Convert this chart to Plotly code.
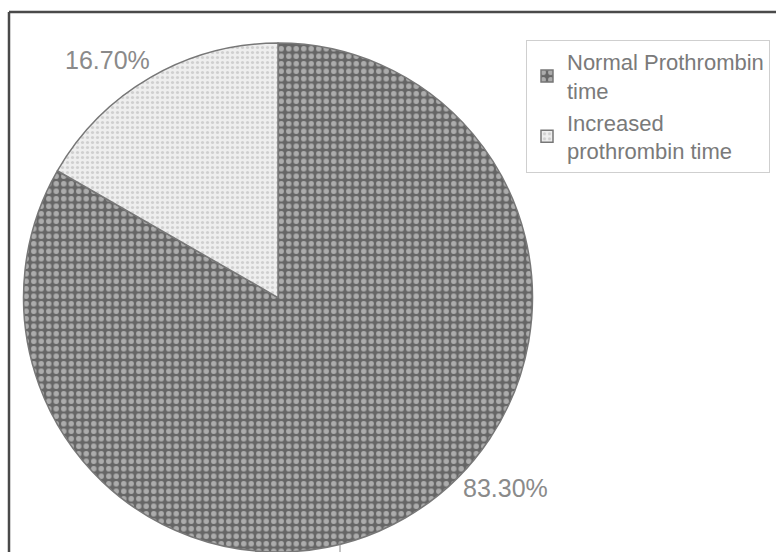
import plotly.graph_objects as go

# Prothrombin time distribution
categories = ["Normal Prothrombin<br>time", "Increased<br>prothrombin time"]
percentages = [83.30, 16.70]

W, H = 776, 552
text_grey = "#7a7a7a"
font_family = "Liberation Sans, Arial, sans-serif"

fig = go.Figure()

fig.add_trace(go.Pie(
    labels=categories,
    values=percentages,
    sort=False,
    direction="clockwise",
    rotation=0,
    textinfo="none",
    hoverinfo="label+percent",
    domain=dict(x=[0.0296, 0.6869], y=[0.0, 0.922]),
    marker=dict(
        colors=["#666666", "#ebebeb"],
        line=dict(color="#777777", width=1.5),
        pattern=dict(
            shape=[".", "."],
            fgcolor=["#f2f2f2", "#b0b0b0"],
            bgcolor=["#666666", "#eeeeee"],
            size=[7.5, 5],
            solidity=[0.42, 0.32],
            fillmode="overlay",
        ),
    ),
    showlegend=True,
))

# Percentage labels placed beside each slice
label_pos = [(505 / W, 1 - 488 / H), (107 / W, 1 - 60 / H)]
for v, (lx, ly) in zip(percentages, label_pos):
    fig.add_annotation(
        x=lx, y=ly, xref="paper", yref="paper",
        text=f"{v:.2f}%", showarrow=False,
        font=dict(family=font_family, size=25, color="#8a8a8a"),
        xanchor="center", yanchor="middle",
    )

# Frame along top and left edges
fx, fy = 9 / W, 1 - 12 / H
fig.add_shape(type="line", xref="paper", yref="paper", x0=fx, y0=fy, x1=1.01, y1=fy,
              line=dict(color="#4a4a4a", width=2.5))
fig.add_shape(type="line", xref="paper", yref="paper", x0=fx, y0=fy, x1=fx, y1=-0.01,
              line=dict(color="#4a4a4a", width=2.5))
# Short leader line under the large slice
fig.add_shape(type="line", xref="paper", yref="paper", x0=340 / W, y0=1 - 541 / H,
              x1=340 / W, y1=-0.01, line=dict(color="#8a8a8a", width=1))

fig.update_layout(
    width=W, height=H,
    margin=dict(l=0, r=0, t=0, b=0),
    paper_bgcolor="white",
    plot_bgcolor="white",
    font=dict(family=font_family, color=text_grey),
    legend=dict(
        x=526 / W, y=1 - 40 / H, xanchor="left", yanchor="top",
        bgcolor="white", bordercolor="#cfcfcf", borderwidth=1,
        font=dict(family=font_family, size=22, color=text_grey),
        itemwidth=30,
    ),
)

fig.write_html("out.html")
